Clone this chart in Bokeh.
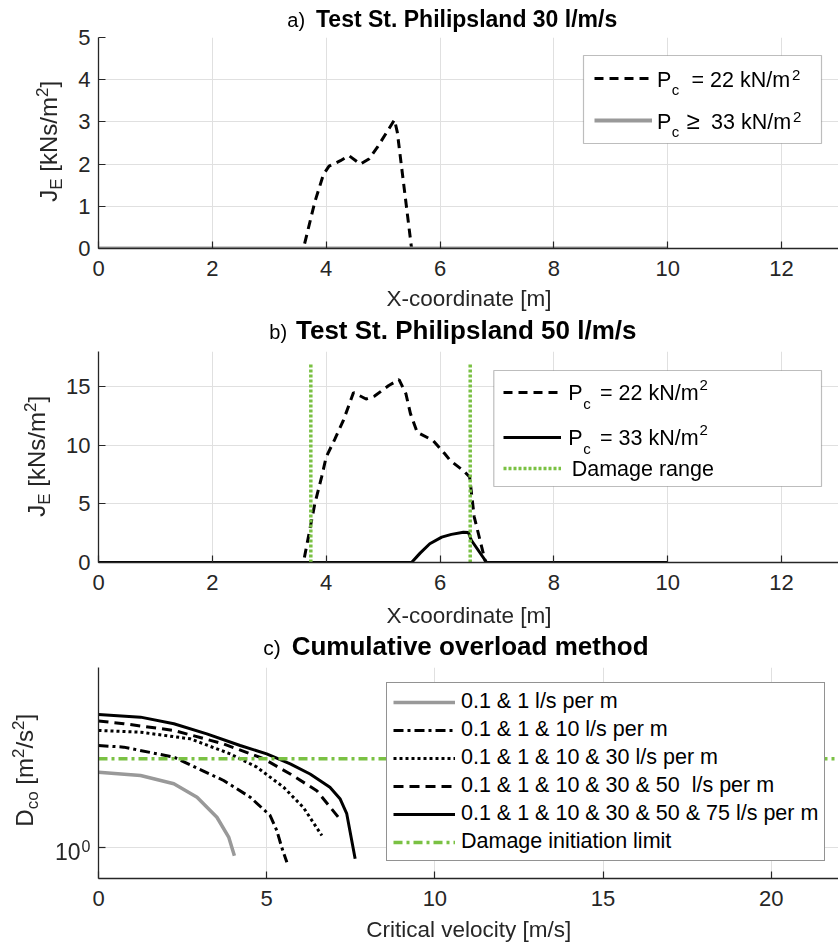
import math
from bokeh.plotting import figure
from bokeh.models import (Legend, LegendItem, BoxAnnotation, FixedTicker, Range1d,
                          CustomJSTickFormatter, Div)
from bokeh.layouts import column
from bokeh.embed import file_html
from bokeh.resources import INLINE

# ---------------- data ----------------
# a) Test St. Philipsland 30 l/m/s
xa_pc22 = [0.0, 3.6, 3.8, 3.95, 4.05, 4.25, 4.4, 4.6, 4.75, 4.9, 5.2, 5.25, 5.5, 10.0]
ja_pc22 = [0.0, 0.0, 1.1, 1.75, 1.95, 2.08, 2.2, 2.0, 2.12, 2.4, 3.05, 2.75, 0.0, 0.0]
xa_pc33 = [0.0, 10.0]
ja_pc33 = [0.0, 0.0]

# b) Test St. Philipsland 50 l/m/s
xb_pc22 = [0.0, 3.6, 3.8, 3.92, 4.0, 4.15, 4.3, 4.48, 4.7, 4.85, 5.1, 5.28, 5.4, 5.48,
           5.6, 5.88, 6.08, 6.18, 6.42, 6.52, 6.6, 6.8, 10.0]
jb_pc22 = [0.0, 0.0, 5.0, 7.3, 9.0, 10.5, 12.1, 14.5, 13.95, 14.2, 15.1, 15.6, 14.4, 12.7,
           11.1, 10.4, 9.3, 8.7, 7.8, 7.3, 3.9, 0.0, 0.0]
xb_pc33 = [0.0, 5.5, 5.65, 5.82, 6.03, 6.2, 6.41, 6.5, 6.55, 6.82, 10.0]
jb_pc33 = [0.0, 0.0, 0.8, 1.6, 2.16, 2.4, 2.58, 2.55, 1.9, 0.0, 0.0]
damage_x = [3.73, 6.53]
damage_bottom = [0.0, 0.0]
damage_top = [17.0, 17.0]

# c) Cumulative overload method
v_1 = [0.0, 1.25, 2.24, 2.93, 3.52, 3.87, 4.04]
d_1 = [2.39, 2.30, 2.09, 1.79, 1.42, 1.13, 0.91]
v_10 = [0.0, 0.75, 2.24, 3.72, 4.51, 5.10, 5.30, 5.45, 5.60]
d_10 = [3.25, 3.19, 2.84, 2.17, 1.79, 1.45, 1.22, 1.0, 0.845]
v_30 = [0.0, 1.25, 2.73, 3.92, 4.71, 5.50, 6.09, 6.64]
d_30 = [3.87, 3.79, 3.51, 2.95, 2.53, 2.01, 1.59, 1.15]
v_50 = [0.0, 0.75, 2.24, 3.72, 4.91, 5.70, 6.49, 7.13]
d_50 = [4.31, 4.18, 3.87, 3.31, 2.79, 2.34, 1.93, 1.42]
v_75 = [0.0, 1.25, 2.24, 3.22, 4.21, 5.0, 5.70, 6.29, 6.88, 7.18, 7.38, 7.63]
d_75 = [4.65, 4.51, 4.18, 3.72, 3.25, 2.95, 2.63, 2.34, 2.01, 1.76, 1.48, 0.88]
v_limit = [0.0, 22.0]
d_limit = [2.79, 2.79]

series_c_labels = ["0.1 & 1 l/s per m", "0.1 & 1 & 10 l/s per m",
                   "0.1 & 1 & 10 & 30 l/s per m", "0.1 & 1 & 10 & 30 & 50  l/s per m",
                   "0.1 & 1 & 10 & 30 & 50 & 75 l/s per m", "Damage initiation limit"]

x_ticks_ab = [0, 2, 4, 6, 8, 10, 12]
y_ticks_a = [0, 1, 2, 3, 4, 5]
y_ticks_b = [0, 5, 10, 15]
x_ticks_c = [0, 5, 10, 15, 20]
y_ticks_c = [1]

# ---------------- style ----------------
FONT = "Liberation Sans"
AX = "#262626"
GRID = "#e0e0e0"
GREEN = "#7ac143"
GREY = "#999999"


def make_fig(height, top, bottom, xr, yr, y_log=False):
    kw = dict(width=838, height=height, x_range=Range1d(*xr), y_range=Range1d(*yr),
              output_backend="svg", toolbar_location=None, min_border_left=98,
              min_border_right=0, min_border_top=top, min_border_bottom=bottom)
    if y_log:
        kw["y_axis_type"] = "log"
    p = figure(**kw)
    p.outline_line_color = None
    p.background_fill_color = "white"
    p.border_fill_alpha = 0
    return p


def style(p, xticks, yticks):
    for ax in (p.xaxis[0], p.yaxis[0]):
        ax.axis_line_color = AX
        ax.axis_line_width = 1.3
        ax.major_tick_line_color = AX
        ax.major_tick_line_width = 1.2
        ax.major_tick_in = 7
        ax.major_tick_out = 0
        ax.minor_tick_line_color = None
        ax.major_label_text_font = FONT
        ax.major_label_text_font_size = "22px"
        ax.major_label_text_color = AX
    p.xaxis.ticker = FixedTicker(ticks=xticks)
    p.yaxis.ticker = FixedTicker(ticks=yticks)
    p.xaxis.major_label_standoff = 12
    p.yaxis.major_label_standoff = 8
    p.xgrid.grid_line_color = GRID
    p.ygrid.grid_line_color = GRID


def legend_nobox(items, loc, spacing):
    return Legend(items=items, location=loc, padding=0, spacing=spacing, glyph_width=58,
                  glyph_height=30, label_height=30, label_width=0, label_standoff=0,
                  border_line_color=None, background_fill_alpha=0, margin=0)


# ---------------- panel a ----------------
pa = make_fig(316, 37, 68, (0, 13), (0, 5))
style(pa, x_ticks_ab, y_ticks_a)
ra22 = pa.line(xa_pc22, ja_pc22, line_color="black", line_width=3, line_dash="9 6")
ra33 = pa.line(xa_pc33, ja_pc33, line_color=GREY, line_width=4)
pa.add_layout(BoxAnnotation(left=(583 - 98) * 13 / 740, right=(821 - 98) * 13 / 740,
                            bottom=(248 - 143) * 5 / 211, top=(248 - 55) * 5 / 211,
                            fill_color="white", fill_alpha=1, line_color=AX, line_width=1.2))
pa.add_layout(legend_nobox([LegendItem(label=" ", renderers=[ra22]),
                            LegendItem(label=" ", renderers=[ra33])], (496, 113), 12))

# ---------------- panel b ----------------
pb = make_fig(316, 35, 70, (0, 13), (0, 18))
style(pb, x_ticks_ab, y_ticks_b)
rb22 = pb.line(xb_pc22, jb_pc22, line_color="black", line_width=3, line_dash="9 6")
rb33 = pb.line(xb_pc33, jb_pc33, line_color="black", line_width=3, line_join="round")
rdmg = pb.segment(x0=damage_x, y0=damage_bottom, x1=damage_x, y1=damage_top,
                  line_color=GREEN, line_width=3.5, line_dash="3 2")
pb.add_layout(BoxAnnotation(left=(493.3 - 98) * 13 / 740, right=(821 - 98) * 13 / 740,
                            bottom=(562 - 486) * 18 / 211, top=(562 - 370) * 18 / 211,
                            fill_color="white", fill_alpha=1, line_color=AX, line_width=1.2))
pb.add_layout(legend_nobox([LegendItem(label=" ", renderers=[rb22]),
                            LegendItem(label=" ", renderers=[rb33])], (405.3, 110.3), 15))
pb.add_layout(legend_nobox([LegendItem(label=" ", renderers=[rdmg])], (405.3, 79.3), 0))

# ---------------- panel c ----------------
pc = make_fig(305, 35, 59, (0, 22), (0.7, 8.0), y_log=True)
style(pc, x_ticks_c, y_ticks_c)
pc.yaxis.formatter = CustomJSTickFormatter(code="return ''")
r1 = pc.line(v_1, d_1, line_color=GREY, line_width=3.5, line_join="round")
r10 = pc.line(v_10, d_10, line_color="black", line_width=3, line_dash="10 4 3 4")
r30 = pc.line(v_30, d_30, line_color="black", line_width=3, line_dash="3 3")
r50 = pc.line(v_50, d_50, line_color="black", line_width=3, line_dash="10 6")
r75 = pc.line(v_75, d_75, line_color="black", line_width=3, line_join="round")
rlim = pc.line(v_limit, d_limit, line_color=GREEN, line_width=3.5, line_dash="9 4 3 4")
pc.add_layout(Legend(items=[LegendItem(label=lab, renderers=[r])
                            for lab, r in zip(series_c_labels, [r1, r10, r30, r50, r75, rlim])],
                     location=(288, 17), padding=6, spacing=3, glyph_width=62,
                     glyph_height=22, label_height=22, label_standoff=6,
                     label_text_font=FONT, label_text_font_size="21.5px",
                     label_text_color="black", border_line_color=AX, border_line_width=1.2,
                     background_fill_color="white", background_fill_alpha=1, margin=0))

# ---------------- texts with sub/superscripts (real SVG text overlay) ----------------
def T(x, y, body, size, weight="normal", anchor="start", fill=AX, transform=None):
    pos = f'transform="{transform}"' if transform else f'x="{x}" y="{y}"'
    return (f'<text {pos} font-family="{FONT}" font-size="{size}" font-weight="{weight}" '
            f'text-anchor="{anchor}" fill="{fill}" style="white-space:pre">{body}</text>')


def ts(s, size, dy=0, x=None, dx=0):
    a = f' x="{x}"' if x is not None else ""
    return f'<tspan{a} dx="{dx}" dy="{dy}" font-size="{size}">{s}</tspan>'


parts = []
# titles
parts.append(T(287.3, 26.7, "a)", 20, fill="black"))
parts.append(T(316, 26.7, "Test St. Philipsland 30 l/m/s", 23, "bold", fill="black"))
parts.append(T(269.3, 339.3, "b)", 20, fill="black"))
parts.append(T(296, 339.3, "Test St. Philipsland 50 l/m/s", 26, "bold", fill="black"))
parts.append(T(263.3, 655, "c)", 21, fill="black"))
parts.append(T(291.7, 655, "Cumulative overload method", 26, "bold", fill="black"))
# x labels
parts.append(T(469, 306, "X-coordinate [m]", 22.5, anchor="middle"))
parts.append(T(469, 623.3, "X-coordinate [m]", 22.5, anchor="middle"))
parts.append(T(468.8, 937, "Critical velocity [m/s]", 22.5, anchor="middle"))
# y labels
je = "J" + ts("E", 17, 5) + ts(" [kNs/m", 24, -5) + ts("2", 17, -9) + ts("]", 24, 9)
parts.append(T(0, 0, je, 24, transform="translate(57,201.7) rotate(-90)"))
parts.append(T(0, 0, je, 24, transform="translate(45,516.7) rotate(-90)"))
dco = ("D" + ts("co", 17, 5) + ts(" [m", 24, -5) + ts("2", 17, -9) + ts("/s", 24, 9)
       + ts("2", 17, -9) + ts("]", 24, 9))
parts.append(T(0, 0, dco, 24, transform="translate(33.3,826.7) rotate(-90)"))
# log tick label 10^0
parts.append(T(55, 860, "10" + ts("0", 16, -8.5, dx=1), 23))
# legend a
parts.append(T(657, 87.3, "P" + ts("c", 15, 7.7, dx=0.5) + ts("= 22 kN/m", 21.5, -7.7, x=691.5)
               + ts("2", 15, -7.3, dx=2), 21.5, fill="black"))
parts.append(T(657, 129.3, "P" + ts("c", 15, 7.7, dx=0.5) + ts("≥", 24, -7.7, x=686.5)
               + ts("33 kN/m", 21.5, 0, x=711) + ts("2", 15, -7.3, dx=2), 21.5, fill="black"))
# legend b
for y0, val in [(400, "22"), (445, "33")]:
    parts.append(T(568.3, y0, "P" + ts("c", 15, 8.5, dx=0.5) + ts(f"= {val} kN/m", 21.5, -8.5, x=600)
                   + ts("2", 15, -10, dx=1), 21.5, fill="black"))
parts.append(T(571.7, 475.7, "Damage range", 21.5, fill="black"))

svg = ('<svg xmlns="http://www.w3.org/2000/svg" width="838" height="947" '
       'style="position:fixed;left:0;top:0;overflow:visible;pointer-events:none;z-index:10;">'
       + "".join(parts) + '</svg>')
overlay = Div(text=svg, width=838, height=0, styles={"z-index": "10", "overflow": "visible"})

layout = column(pa, pb, pc, overlay)
open("out.html", "w").write(file_html(layout, INLINE))
